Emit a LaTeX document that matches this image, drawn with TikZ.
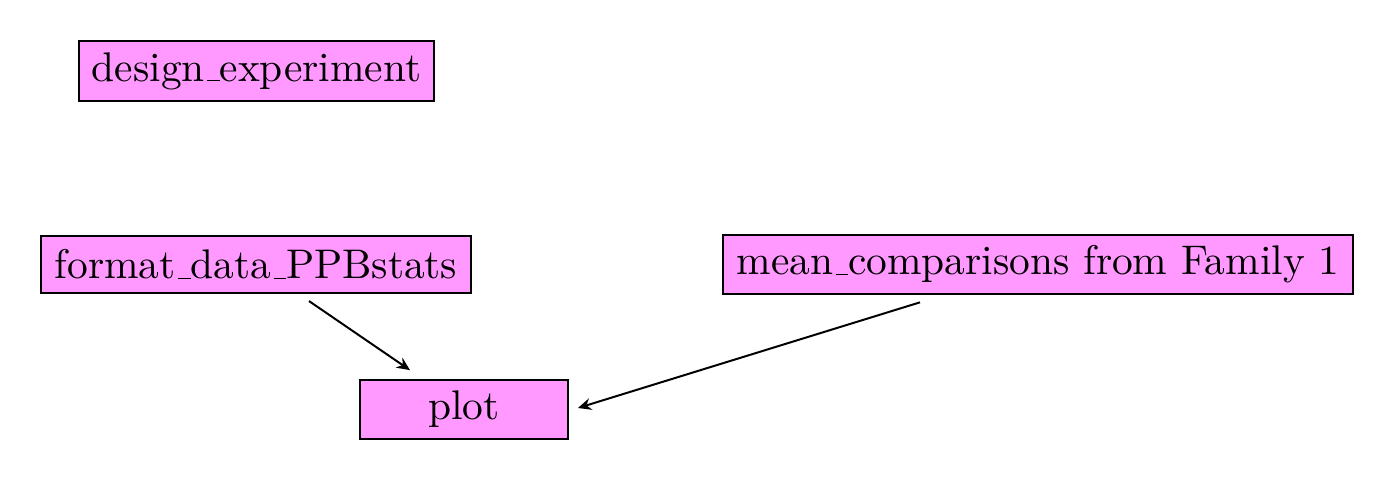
\documentclass[tikz,border=0pt]{standalone}
\usepackage{fontspec}
\newfontfamily\lmten{lmroman10-regular}[Extension=.otf]
\usetikzlibrary{calc,arrows.meta}
\definecolor{boxfill}{HTML}{FF99FF}
\newcommand\us{\leavevmode\kern.06em\vbox{\hrule width.3em}}
\begin{document}
\begin{tikzpicture}[x=0.303pt,y=-0.303pt,
  box/.style={draw=black,fill=boxfill,line width=0.6pt,inner xsep=4pt,inner ysep=3.33pt,minimum height=17.3pt,font=\lmten\fontsize{12.55}{14.5}\selectfont},
  conn/.style={-{Stealth[length=4pt,width=3.6pt,inset=1.3pt]},line width=0.6pt}]
\useasboundingbox (0,0) rectangle (1395,481);
\node[box] (de) at (256.5,71) {design\us experiment};
\node[box] (fmt) at (256,264.5) {format\us data\us PPBstats};
\node[box] (mc) at (1038,264.5) {mean\us comparisons from Family 1};
\node[box,minimum width=63pt] (plot) at (464,409.5) {plot};
\draw[conn] ($(fmt.south)+(53,7)$) -- ($(plot.north)+(-54,-9)$);
\draw[conn] ($(mc.south)+(-118,7)$) -- ($(plot.east)+(9,-1.5)$);
\end{tikzpicture}
\end{document}
